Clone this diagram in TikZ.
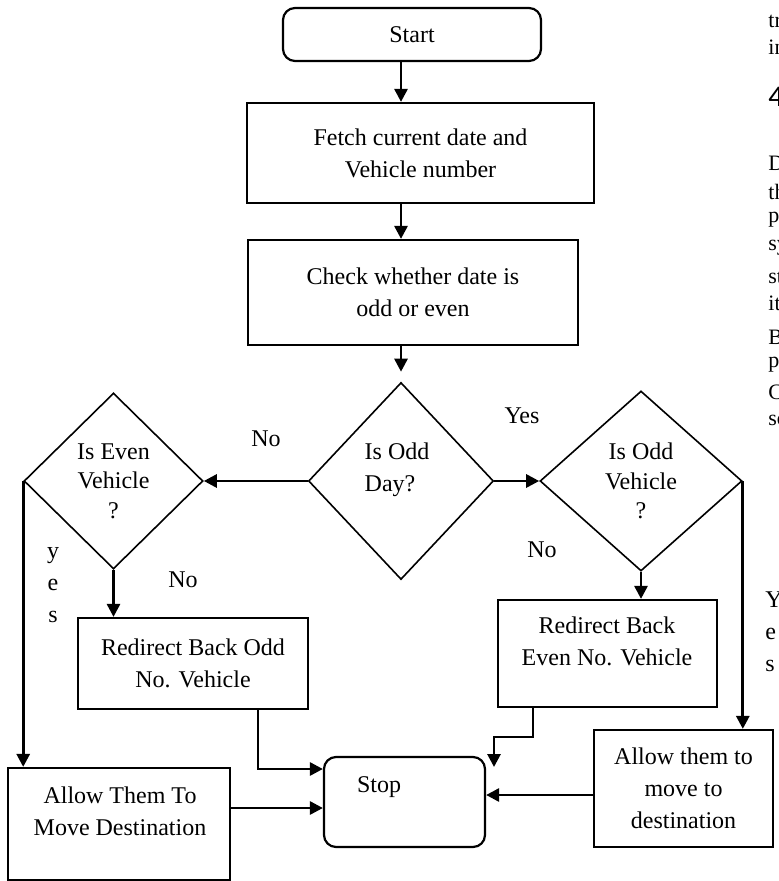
\documentclass[tikz,border=0pt]{standalone}
\usepackage{fontspec}
\setmainfont{Liberation Serif}
\newfontfamily\headfont{Carlito}
\usetikzlibrary{shapes.geometric, arrows.meta}

\tikzset{
  txt/.style={font=\fontsize{12pt}{16pt}\selectfont, align=center, inner sep=0pt},
  box/.style={txt, draw, line width=1.1pt},
  term/.style={box, rounded corners=6pt},
  dec/.style={txt, draw, diamond, line width=0.8pt, font=\fontsize{12pt}{14.75pt}\selectfont},
  arr/.style={line width=1.4pt, -{Triangle[length=6.5pt, width=6.5pt]}},
  frag/.style={font=\fontsize{11pt}{13pt}\selectfont, inner sep=0pt, anchor=west}
}

\begin{document}
\begin{tikzpicture}[x=0.5pt, y=-0.5pt]
\useasboundingbox (0,0) rectangle (779,881);
\node [term, minimum width=129pt, minimum height=26.5pt] (start) at (412,34.5) {Start};
\node [box, minimum width=173.5pt, minimum height=50pt] (fetch) at (420.5,153) {Fetch current date and\\Vehicle number};
\node [box, minimum width=165pt, minimum height=52.5pt] (check) at (413,292.5) {Check whether date is\\odd or even};
\node [dec, minimum width=92.5pt, minimum height=98.5pt] (oddday) at (401,481) {};
\node [txt, align=left] (oddday-t) at (397,469.5) {Is Odd\\Day?};
\node [dec, minimum width=89.5pt, minimum height=88pt] (evenveh) at (113.5,481) {Is Even\\Vehicle\\?};
\node [dec, minimum width=101pt, minimum height=90pt] (oddveh) at (641,481) {Is Odd\\Vehicle\\?};
\node [box, minimum width=115pt, minimum height=45.5pt] (redodd) at (193,663.5) {Redirect Back Odd\\No. Vehicle};
\node [box, minimum width=109.5pt, minimum height=53.5pt] (redeven) at (607.5,653.5) {};
\node [txt] (redeven-t) at (607,641.5) {Redirect Back\\Even No. Vehicle};
\node [box, minimum width=111pt, minimum height=56pt] (allowl) at (119,824) {};
\node [txt] (allowl-t) at (120,811) {Allow Them To\\Move Destination};
\node [box, minimum width=89.5pt, minimum height=58.5pt] (allowr) at (683.5,788.5) {Allow them to\\move to\\destination};
\node [term, minimum width=80.5pt, minimum height=45pt] (stop) at (404.5,802) {};
\node [txt] (stop-t) at (379,787) {Stop};

\node [txt] (no-day) at (266,439) {No};
\node [txt] (yes-day) at (522,416) {Yes};
\node [txt] (no-even) at (183,580) {No};
\node [txt] (no-odd) at (542,550) {No};
\node [txt] (yes-even) at (53,585) {y\\e\\s};

\draw [arr] (start.south -| oddday.north) -- (fetch.north -| oddday.north);
\draw [arr] (fetch.south -| oddday.north) -- (check.north -| oddday.north);
\draw [arr, shorten >=5pt] (check.south -| oddday.north) -- (oddday.north);
\draw [arr] (oddday.west) -- (evenveh.east);
\draw [arr] (oddday.east) -- (oddveh.west);
\draw [arr] (evenveh.south) -- (evenveh.south |- redodd.north);
\draw [arr] (oddveh.south) -- (oddveh.south |- redeven.north);
\draw [arr] (evenveh.west) -- (evenveh.west |- allowl.north);
\draw [arr] (oddveh.east) -- (oddveh.east |- allowr.north);
\coordinate (j1) at (258,769);
\draw [arr] (redodd.south -| j1) |- (stop.west |- j1);
\coordinate (j2) at (230,808);
\draw [arr] (allowl.east |- j2) -- (stop.west |- j2);
\coordinate (j3) at (594,795);
\draw [arr] (allowr.west |- j3) -- (stop.east |- j3);
\coordinate (j4) at (533,737);
\coordinate (j5) at (494,767);
\draw [arr] (redeven.south -| j4) -- (j4) -| (j5);

\begin{scope}
\clip (0,0) rectangle (779,881);
\node [txt, align=left, anchor=west] (yes-odd) at (765,632) {Y\\e\\s};
\foreach \y/\w in {21/tr, 47/in, 163/D, 192/th, 220/p, 248/sy, 277/st, 303/it, 337/B, 365/p, 392/C, 420/sc}
  \node [frag] (frag\y) at (768,\y) {\w};
\node [frag, font=\headfont\fontsize{15pt}{18pt}\selectfont] (frag-head) at (768,97) {4};
\end{scope}
\end{tikzpicture}
\end{document}
